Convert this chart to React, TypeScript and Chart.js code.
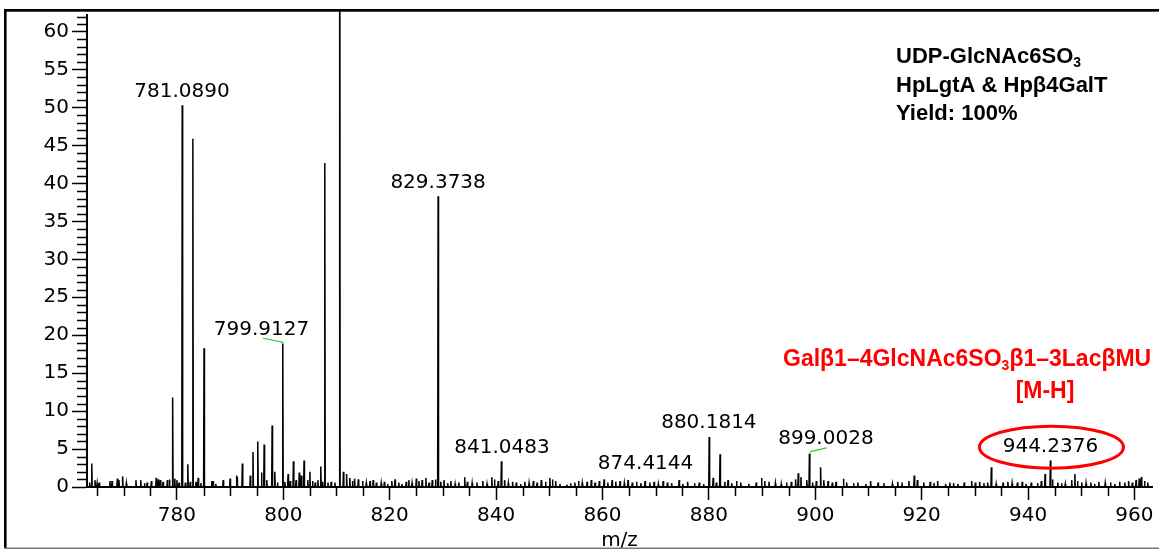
import React, { useEffect, useRef } from 'react';
import { Chart, registerables } from 'chart.js';

Chart.register(...registerables);

// ---- axis ranges / ticks ----
const X_MIN = 763.1;
const X_MAX = 963.3;
const Y_MIN = 0;
const Y_MAX = 62.2;
const X_TICKS = [780, 800, 820, 840, 860, 880, 900, 920, 940, 960];
const Y_TICKS = [0, 5, 10, 15, 20, 25, 30, 35, 40, 45, 50, 55, 60];
const X_MINOR_STEP = 5;
const Y_MINOR_STEP = 1;

// ---- main peaks (m/z, relative intensity) ----
const peakMz = [
  764.0, 779.2, 781.0, 782.05, 783.0, 785.1, 791.3, 792.3, 794.3, 795.2, 796.4, 797.9, 798.4,
  799.9, 800.9, 801.9, 803.9, 805.0, 807.05, 807.8, 810.6, 829.1, 841.0, 880.06, 882.1, 898.9,
  901.0, 933.1, 944.2,
];
const peakInt = [
  3.1, 11.8, 50.3, 3.0, 45.9, 18.3, 1.3, 3.1, 4.6, 6.0, 5.6, 8.1, 2.0,
  18.9, 1.7, 3.4, 3.5, 2.0, 2.7, 42.7, 120, 38.3, 3.4, 6.6, 4.3, 4.4,
  2.6, 2.6, 3.5,
];

// ---- baseline noise peaks ----
const noiseMz = [
  763.6, 764.6, 765.0, 765.4, 767.4, 767.8, 768.8, 769.1, 769.8, 770.5, 772.3, 773.2, 773.9, 774.4,
  775.2, 776.1, 776.5, 776.9, 777.4, 778.2, 778.6, 779.6, 780.0, 780.4, 781.6, 782.5, 783.6, 784.0,
  784.5, 786.5, 786.8, 787.3, 788.7, 790.0, 791.2, 793.8, 795.9, 796.9, 798.9, 800.3, 801.3, 802.4,
  803.0, 803.4, 804.6, 805.5, 806.0, 806.5, 807.4, 808.4, 809.0, 809.7, 811.3, 811.9, 812.5, 813.0,
  813.4, 814.1, 814.9, 815.6, 816.3, 816.9, 817.5, 818.4, 819.0, 819.6,
  820.4, 821.0, 821.7, 822.3, 823.1, 823.6, 824.2, 825.0, 825.5, 826.1, 826.8, 827.4, 828.0, 828.6,
  829.6, 830.2, 830.9, 831.5, 832.3, 833.0, 834.1, 834.6, 835.5, 836.4, 837.5, 838.3, 839.2, 839.7,
  840.4, 841.6, 842.3, 843.1, 843.8, 844.6, 845.4, 846.2, 847.0, 847.7, 848.5, 849.3, 850.1, 850.6,
  851.2, 852.0, 853.3, 854.0, 854.8, 855.5, 856.2, 857.1, 857.9, 858.6, 859.4, 860.3, 861.0, 861.8,
  862.5, 863.3, 864.1, 864.8, 865.6, 866.4, 867.2, 868.0, 868.9, 869.7, 870.5, 871.4, 872.2, 873.0,
  874.4, 875.1, 876.0, 877.3, 878.2, 879.0, 880.8, 881.4,
  883.0, 883.6, 884.3, 885.2, 886.0, 887.5, 888.9, 889.9, 890.5, 891.3, 892.5, 893.6, 894.6, 895.5,
  896.3, 896.8, 897.3, 898.4, 899.5, 900.2, 901.6, 902.4, 903.2, 903.9, 905.3, 905.9, 907.2, 908.0,
  909.5, 910.4, 911.8, 912.9, 914.5, 915.5, 916.3, 917.6, 918.6, 919.2, 920.4, 921.6, 922.3, 923.0,
  924.5, 925.3, 926.0, 926.8, 928.0, 929.4, 930.1, 930.9, 931.7, 932.4, 934.0, 935.3, 936.2, 937.0,
  938.0, 938.9, 939.6, 940.6, 941.8, 942.5, 943.2, 944.6, 945.6, 946.3, 947.0, 948.2, 948.8, 949.3,
  950.1, 950.9, 951.8, 952.5, 953.3, 954.5, 955.5, 956.3, 957.2, 958.2, 958.9, 959.6, 960.3, 960.9,
  961.3, 961.9, 962.5,
];
const noiseInt = [
  0.6, 0.9, 0.5, 0.6, 0.8, 0.8, 1.1, 0.9, 1.4, 0.5, 0.9, 0.9, 0.5, 0.6,
  0.8, 1.2, 1.0, 0.9, 0.7, 0.9, 1.0, 1.1, 0.9, 0.6, 0.6, 0.7, 0.7, 1.2,
  0.5, 0.8, 0.8, 0.4, 0.9, 1.1, 1.5, 1.5, 1.9, 0.9, 0.6, 0.7, 0.8, 0.9,
  1.9, 1.5, 0.9, 0.8, 0.6, 0.9, 0.7, 0.6, 0.7, 0.6, 2.0, 1.7, 1.2, 0.8,
  1.1, 1.0, 0.8, 0.5, 0.8, 0.9, 0.6, 0.5, 0.7, 0.4,
  0.8, 1.0, 0.6, 0.4, 0.7, 0.9, 0.5, 1.1, 0.8, 0.9, 1.2, 0.6, 0.9, 1.0,
  0.7, 0.9, 0.5, 0.8, 0.4, 0.6, 1.3, 0.7, 0.5, 0.6, 0.8, 0.4, 1.3, 1.0,
  0.8, 0.9, 0.5, 0.7, 0.6, 0.4, 0.7, 0.5, 0.8, 0.6, 0.9, 0.7, 1.2, 1.0,
  0.8, 0.4, 0.3, 0.5, 0.6, 0.8, 0.5, 0.7, 0.9, 0.6, 0.8, 1.0, 0.6, 0.9,
  0.7, 0.8, 0.5, 0.9, 0.6, 0.7, 0.5, 0.8, 0.6, 0.7, 0.4, 0.8, 0.6, 0.5,
  0.9, 0.4, 0.7, 0.5, 0.6, 0.4, 1.2, 0.6,
  0.7, 0.9, 0.5, 0.8, 0.6, 0.4, 0.6, 1.2, 0.8, 0.7, 0.5, 0.4, 0.6, 0.7,
  1.0, 1.8, 1.3, 0.9, 0.6, 0.8, 0.9, 0.8, 0.6, 0.7, 1.1, 0.6, 0.5, 0.6,
  0.4, 0.8, 0.6, 0.5, 0.4, 0.7, 0.6, 0.8, 1.5, 0.9, 0.6, 0.7, 0.5, 0.8,
  0.4, 0.6, 0.5, 0.4, 0.6, 0.8, 0.6, 0.7, 0.5, 0.6, 0.4, 0.6, 0.7, 0.5,
  0.6, 0.7, 0.4, 0.6, 0.5, 0.8, 1.7, 1.0, 0.6, 0.5, 0.4, 0.9, 1.7, 0.8,
  0.6, 0.5, 0.6, 0.4, 0.7, 0.5, 0.6, 0.4, 0.7, 0.6, 0.8, 0.6, 0.9, 1.1,
  1.3, 0.8, 0.6,
];

// ---- peak annotation labels (anchor in data coords) ----
const labelText = ['781.0890', '829.3738', '799.9127', '841.0483', '874.4144', '880.1814', '899.0028', '944.2376'];
const labelMz = [780.95, 829.1, 795.9, 841.1, 868.1, 880.0, 902.0, 944.2];
const labelY = [52.1, 40.1, 20.7, 5.2, 3.0, 8.4, 6.3, 5.3];

// ---- green leader lines (data coords) ----
const leaderFromMz = [796.17, 898.95];
const leaderFromY = [19.6, 4.63];
const leaderToMz = [800.05, 902.1];
const leaderToY = [19.07, 5.16];

// ---- highlighted peak (red ellipse) ----
const circledMz = 944.4;
const circledY = 5.25;

const infoLines = ['HpLgtA & Hp\u03b24GalT', 'Yield: 100%'];

const FONT = '"DejaVu Sans", sans-serif';
const BOLD = '"Liberation Sans", Arial, sans-serif';

type Seg = { t: string; sub?: boolean };

function drawRich(ctx: CanvasRenderingContext2D, segs: Seg[], x: number, y: number, size: number, color: string) {
  let cx = x;
  ctx.fillStyle = color;
  ctx.textAlign = 'left';
  ctx.textBaseline = 'alphabetic';
  for (const s of segs) {
    const sz = s.sub ? Math.round(size * 0.62) : size;
    ctx.font = `bold ${sz}px ${BOLD}`;
    ctx.fillText(s.t, cx, s.sub ? y + 4 : y);
    cx += ctx.measureText(s.t).width;
  }
}

const decor = {
  id: 'decor',
  afterDraw(chart: any) {
    const ctx: CanvasRenderingContext2D = chart.ctx;
    const xs = chart.scales.x;
    const ys = chart.scales.y;
    const area = chart.chartArea;
    ctx.save();
    // minor ticks
    ctx.strokeStyle = '#000';
    ctx.lineWidth = 1.5;
    ctx.beginPath();
    for (let v = Y_MIN; v <= Y_MAX; v += Y_MINOR_STEP) {
      if (Y_TICKS.includes(v)) continue;
      const py = Math.round(ys.getPixelForValue(v)) + 0.5;
      ctx.moveTo(area.left - 10, py);
      ctx.lineTo(area.left, py);
    }
    for (let v = 765; v <= X_MAX; v += X_MINOR_STEP) {
      if (X_TICKS.includes(v)) continue;
      const px = Math.round(xs.getPixelForValue(v)) + 0.5;
      ctx.moveTo(px, area.bottom);
      ctx.lineTo(px, area.bottom + 9);
    }
    ctx.stroke();

    // peak labels
    ctx.fillStyle = '#000';
    ctx.font = `20px ${FONT}`;
    ctx.textAlign = 'center';
    ctx.textBaseline = 'middle';
    labelText.forEach((t, i) => {
      ctx.fillText(t, xs.getPixelForValue(labelMz[i]), ys.getPixelForValue(labelY[i]));
    });

    // green leaders
    ctx.strokeStyle = '#3cc43c';
    ctx.lineWidth = 1.2;
    leaderFromMz.forEach((m, i) => {
      ctx.beginPath();
      ctx.moveTo(xs.getPixelForValue(m), ys.getPixelForValue(leaderFromY[i]));
      ctx.lineTo(xs.getPixelForValue(leaderToMz[i]), ys.getPixelForValue(leaderToY[i]));
      ctx.stroke();
    });

    // red ellipse
    ctx.strokeStyle = '#ff0000';
    ctx.lineWidth = 3;
    ctx.beginPath();
    ctx.ellipse(xs.getPixelForValue(circledMz), ys.getPixelForValue(circledY), 72, 21, 0, 0, Math.PI * 2);
    ctx.stroke();

    // info text
    drawRich(ctx, [{ t: 'UDP-GlcNAc6SO' }, { t: '3', sub: true }], 896, 63, 22, '#000');
    drawRich(ctx, [{ t: infoLines[0] }], 896, 91.5, 22, '#000');
    drawRich(ctx, [{ t: infoLines[1] }], 896, 120, 22, '#000');

    // red compound name
    drawRich(ctx, [{ t: 'Gal\u03b21\u20134GlcNAc6SO' }, { t: '3', sub: true }, { t: '\u03b21\u20133Lac\u03b2MU' }], 783, 366, 23, '#ff0000');
    ctx.font = `bold 23px ${BOLD}`;
    ctx.textAlign = 'center';
    ctx.fillStyle = '#ff0000';
    ctx.fillText('[M-H]', 1045, 398);

    // frame
    ctx.fillStyle = '#000';
    ctx.fillRect(4, 9, 1155, 2.7);
    ctx.fillRect(4, 9, 2.6, 540);
    ctx.fillStyle = '#fff';
    ctx.fillRect(0, 549, 1159, 1);
    ctx.fillStyle = '#7a7a7a';
    ctx.fillRect(4, 547.5, 1155, 1.5);
    ctx.restore();
  },
};

export default function App() {
  const ref = useRef<HTMLCanvasElement>(null);
  useEffect(() => {
    const all: { m: number; h: number }[] = [];
    peakMz.forEach((m, i) => all.push({ m, h: peakInt[i] }));
    noiseMz.forEach((m, i) => all.push({ m, h: noiseInt[i] }));
    all.sort((a, b) => a.m - b.m);
    const pts: { x: number; y: number }[] = [];
    for (const p of all) {
      pts.push({ x: p.m - 0.08, y: 0 });
      pts.push({ x: p.m, y: p.h });
      pts.push({ x: p.m + 0.08, y: 0 });
    }
    const chart = new Chart(ref.current as HTMLCanvasElement, {
      type: 'line',
      data: {
        datasets: [
          {
            data: pts,
            borderColor: '#000',
            borderWidth: 1.5,
            pointRadius: 0,
            tension: 0,
            fill: false,
            clip: { left: 0, right: 0, top: 5, bottom: 2 } as any,
          },
        ],
      },
      options: {
        animation: false,
        responsive: false,
        maintainAspectRatio: false,
        layout: { padding: { left: 0, top: 13, right: 7, bottom: 0 } },
        plugins: { legend: { display: false }, tooltip: { enabled: false } },
        scales: {
          x: {
            type: 'linear',
            min: X_MIN,
            max: X_MAX,
            afterBuildTicks: (s: any) => {
              s.ticks = X_TICKS.map((v) => ({ value: v }));
            },
            afterFit: (s: any) => {
              s.height = 63;
            },
            border: { display: true, color: '#000', width: 2 },
            grid: { drawOnChartArea: false, drawTicks: true, tickLength: 13, tickColor: '#000', tickWidth: 1.5 },
            ticks: {
              color: '#000',
              font: { family: FONT, size: 20 },
              padding: 4,
              maxRotation: 0,
              autoSkip: false,
            },
            title: {
              display: true,
              text: 'm/z',
              color: '#000',
              font: { family: FONT, size: 20 },
              padding: { top: 0, bottom: -3 },
            },
          },
          y: {
            type: 'linear',
            min: Y_MIN,
            max: Y_MAX,
            afterBuildTicks: (s: any) => {
              s.ticks = Y_TICKS.map((v) => ({ value: v }));
            },
            afterFit: (s: any) => {
              s.width = 87;
            },
            border: { display: true, color: '#000', width: 2 },
            grid: { drawOnChartArea: false, drawTicks: true, tickLength: 15, tickColor: '#000', tickWidth: 1.5 },
            ticks: {
              color: '#000',
              font: { family: FONT, size: 20 },
              padding: 3,
              autoSkip: false,
            },
          },
        },
      },
      plugins: [decor],
    });
    return () => chart.destroy();
  }, []);
  return (
    <div style={{ position: 'fixed', left: 0, top: 0, width: 1159, height: 550, background: '#fff' }}>
      <canvas ref={ref} width={1159} height={550} style={{ display: 'block', width: 1159, height: 550 }} />
    </div>
  );
}
